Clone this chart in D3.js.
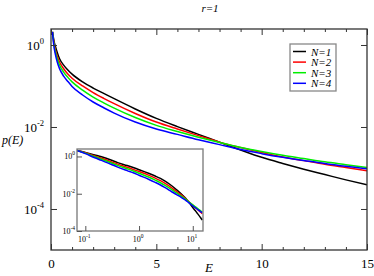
<!DOCTYPE html>
<html><head><meta charset="utf-8">
<script src="https://cdn.jsdelivr.net/npm/d3@7"></script>
<style>
body{margin:0;background:#fff;}
</style></head>
<body><svg id="c" width="374" height="276" font-family="'Liberation Serif', 'Times New Roman', Times, 'DejaVu Serif', serif"></svg>
<script>
const title = "r=1";
const energies = [0.07, 0.1, 0.15, 0.2, 0.3, 0.4, 0.6, 0.8, 1, 1.5, 2, 2.5, 3, 4, 5, 6, 7, 8, 9, 10, 11, 12, 13, 14, 15];
const seriesNames = ["N=1", "N=2", "N=3", "N=4"];
const seriesColors = ["#000000", "#ff0000", "#00ee00", "#0000ff"];
// log10 p(E)
const logN1 = [0.32, 0.22, 0.08, -0.02, -0.19, -0.33, -0.49, -0.61, -0.71, -0.90, -1.05, -1.18, -1.31, -1.56, -1.79, -1.99, -2.18, -2.37, -2.56, -2.74, -2.89, -3.03, -3.16, -3.29, -3.41];
const logN2 = [0.32, 0.20, 0.02, -0.10, -0.28, -0.41, -0.58, -0.71, -0.81, -1.00, -1.16, -1.30, -1.43, -1.67, -1.88, -2.05, -2.21, -2.37, -2.50, -2.62, -2.73, -2.82, -2.91, -2.99, -3.07];
const logN3 = [0.32, 0.18, -0.02, -0.15, -0.34, -0.48, -0.66, -0.79, -0.90, -1.10, -1.27, -1.41, -1.54, -1.77, -1.96, -2.11, -2.25, -2.38, -2.50, -2.60, -2.69, -2.77, -2.85, -2.92, -2.99];
const logN4 = [0.32, 0.15, -0.07, -0.21, -0.42, -0.57, -0.76, -0.89, -1.01, -1.22, -1.39, -1.53, -1.66, -1.88, -2.05, -2.18, -2.31, -2.43, -2.55, -2.65, -2.74, -2.82, -2.89, -2.96, -3.02];
const mainXTicks = [0, 5, 10, 15];
const mainXMinor = [1,2,3,4,6,7,8,9,11,12,13,14];
const mainYTickExp = [0, -2, -4];
const insetXTickExp = [-1, 0, 1];
const insetYTickExp = [0, -2, -4];

const seriesLogs = [logN1, logN2, logN3, logN4];
const series = seriesLogs.map((arr, i) => ({
  name: seriesNames[i], color: seriesColors[i],
  pts: energies.map((e, j) => ({e, p: Math.pow(10, arr[j])}))
}));

const svg = d3.select("#c");
const frameCol = "#333";

// main plot
const M = {l: 51, t: 29, r: 367, b: 250};
const x = d3.scaleLinear().domain([0, 15]).range([M.l, M.r]);
const y = d3.scaleLog().domain([1e-5, Math.pow(10, 0.39)]).range([M.b, M.t]);

svg.append("defs").append("clipPath").attr("id", "mclip")
  .append("rect").attr("x", M.l).attr("y", M.t).attr("width", M.r - M.l).attr("height", M.b - M.t);

const line = d3.line().x(d => x(d.e)).y(d => y(d.p)).curve(d3.curveMonotoneX);
const gLines = svg.append("g").attr("clip-path", "url(#mclip)");
series.forEach(s => {
  gLines.append("path").attr("d", line(s.pts)).attr("fill", "none")
    .attr("stroke", s.color).attr("stroke-width", 1.5);
});

// frame
svg.append("rect").attr("x", M.l).attr("y", M.t).attr("width", M.r - M.l).attr("height", M.b - M.t)
  .attr("fill", "none").attr("stroke", frameCol).attr("stroke-width", 1.3);

// axes with inward ticks
const fmtNone = () => "";
const xb = svg.append("g").attr("transform", `translate(0,${M.b})`)
  .call(d3.axisBottom(x).tickValues(mainXTicks).tickSize(-6).tickPadding(9).tickFormat(d3.format("d")));
const xbm = svg.append("g").attr("transform", `translate(0,${M.b})`)
  .call(d3.axisBottom(x).tickValues(mainXMinor).tickSize(-3).tickFormat(fmtNone));
const xt = svg.append("g").attr("transform", `translate(0,${M.t})`)
  .call(d3.axisTop(x).tickValues(mainXTicks).tickSize(-6).tickFormat(fmtNone));
const xtm = svg.append("g").attr("transform", `translate(0,${M.t})`)
  .call(d3.axisTop(x).tickValues(mainXMinor).tickSize(-3).tickFormat(fmtNone));
const yl = svg.append("g").attr("transform", `translate(${M.l},0)`)
  .call(d3.axisLeft(y).tickValues(mainYTickExp.map(e => Math.pow(10, e))).tickSize(-6).tickFormat(fmtNone));
const yr = svg.append("g").attr("transform", `translate(${M.r},0)`)
  .call(d3.axisRight(y).tickValues(mainYTickExp.map(e => Math.pow(10, e))).tickSize(-6).tickFormat(fmtNone));
[xb, xbm, xt, xtm, yl, yr].forEach(g => {
  g.attr("font-family", null);
  g.select(".domain").remove();
  g.selectAll(".tick line").attr("stroke", frameCol).attr("stroke-width", 1);
});
xb.selectAll(".tick text").attr("font-size", 13).attr("fill", "#000");

// y labels with superscripts
mainYTickExp.forEach(ex => {
  const t = svg.append("text").attr("x", M.l - 7).attr("y", y(Math.pow(10, ex)) + 5)
    .attr("text-anchor", "end").attr("font-size", 13).attr("fill", "#000");
  t.append("tspan").text("10");
  t.append("tspan").attr("font-size", 8.5).attr("dy", -6).text(String(ex));
});

// axis titles
svg.append("text").attr("x", 209).attr("y", 272).attr("text-anchor", "middle")
  .attr("font-size", 13).attr("font-style", "italic").text("E");
svg.append("text").attr("x", 2).attr("y", 144).attr("font-size", 12)
  .attr("font-style", "italic").text("p(E)");
svg.append("text").attr("x", 210).attr("y", 12).attr("text-anchor", "middle")
  .attr("font-size", 11).attr("font-style", "italic").text(title);

// legend
const L = {x: 290, y: 44, w: 46, h: 47};
svg.append("rect").attr("x", L.x).attr("y", L.y).attr("width", L.w).attr("height", L.h)
  .attr("fill", "#fff").attr("stroke", "#888").attr("stroke-width", 1.3);
series.forEach((s, i) => {
  const yy = L.y + 7.5 + i * 10.6;
  svg.append("line").attr("x1", L.x + 3).attr("x2", L.x + 16).attr("y1", yy).attr("y2", yy)
    .attr("stroke", s.color).attr("stroke-width", 1.5);
  svg.append("text").attr("x", L.x + 21).attr("y", yy + 4).attr("font-size", 11)
    .attr("font-style", "italic").text(s.name);
});

// inset
const I = {l: 77, t: 149, r: 203, b: 231};
const xi = d3.scaleLog().domain([0.07, 15.5]).range([I.l, I.r]);
const yi = d3.scaleLog().domain([1e-4, Math.pow(10, 0.4)]).range([I.b, I.t]);
svg.append("defs").append("clipPath").attr("id", "iclip")
  .append("rect").attr("x", I.l).attr("y", I.t).attr("width", I.r - I.l).attr("height", I.b - I.t);
svg.append("rect").attr("x", I.l).attr("y", I.t).attr("width", I.r - I.l).attr("height", I.b - I.t)
  .attr("fill", "#fff");
const lineI = d3.line().x(d => xi(d.e)).y(d => yi(d.p)).curve(d3.curveMonotoneX);
const gI = svg.append("g").attr("clip-path", "url(#iclip)");
series.forEach(s => {
  gI.append("path").attr("d", lineI(s.pts)).attr("fill", "none")
    .attr("stroke", s.color).attr("stroke-width", 1.5);
});
svg.append("rect").attr("x", I.l).attr("y", I.t).attr("width", I.r - I.l).attr("height", I.b - I.t)
  .attr("fill", "none").attr("stroke", "#777").attr("stroke-width", 1.3);
const xib = svg.append("g").attr("transform", `translate(0,${I.b})`)
  .call(d3.axisBottom(xi).tickValues(insetXTickExp.map(e => Math.pow(10, e))).tickSize(-5).tickFormat(fmtNone));
const yil = svg.append("g").attr("transform", `translate(${I.l},0)`)
  .call(d3.axisLeft(yi).tickValues(insetYTickExp.map(e => Math.pow(10, e))).tickSize(-5).tickFormat(fmtNone));
[xib, yil].forEach(g => {
  g.select(".domain").remove();
  g.selectAll(".tick line").attr("stroke", "#555").attr("stroke-width", 1);
});
insetXTickExp.forEach(ex => {
  const t = svg.append("text").attr("x", xi(Math.pow(10, ex)) - 1).attr("y", I.b + 11)
    .attr("text-anchor", "middle").attr("font-size", 8).attr("fill", "#000");
  t.append("tspan").text("10");
  t.append("tspan").attr("font-size", 5.5).attr("dy", -4).text(String(ex));
});
insetYTickExp.forEach(ex => {
  const t = svg.append("text").attr("x", I.l - 2).attr("y", yi(Math.pow(10, ex)) + 3)
    .attr("text-anchor", "end").attr("font-size", 8).attr("fill", "#000");
  t.append("tspan").text("10");
  t.append("tspan").attr("font-size", 5.5).attr("dy", -4).text(String(ex));
});
</script></body></html>
